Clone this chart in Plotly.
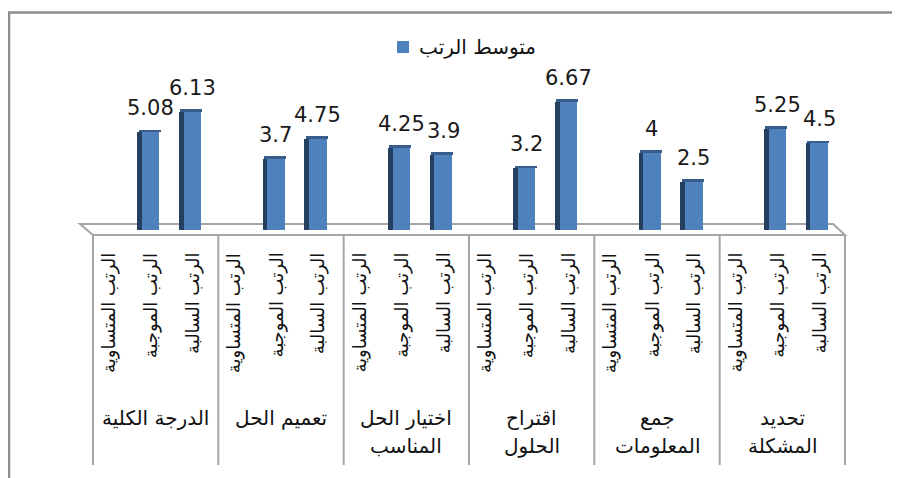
import plotly.graph_objects as go

# ---------------- data ----------------
groups = ["الدرجة الكلية", "تعميم الحل", "اختيار الحل<br>المناسب",
          "اقتراح<br>الحلول", "جمع<br>المعلومات", "تحديد<br>المشكلة"]
subcats = ["الرتب المتساوية", "الرتب الموجبة", "الرتب السالبة"]
series_name = "متوسط الرتب"
vals_equal = [None, None, None, None, None, None]
vals_positive = [5.08, 3.7, 4.25, 3.2, 4, 5.25]
vals_negative = [6.13, 4.75, 3.9, 6.67, 2.5, 4.5]
sub_values = [vals_equal, vals_positive, vals_negative]

# ---------------- geometry helpers ----------------
OFF = 8                      # page body margin
W, H = 892, 470
ML, MR, MT, MB = 85, 55, 68, 248
PW, PH = W - ML - MR, H - MT - MB
NX = 3 * len(groups)
YMAX = 8.0

def py(p):  # screen pixel y -> paper y
    return (H - MB - (p - OFF)) / PH

def px(p):  # screen pixel x -> paper x
    return ((p - OFF) - ML) / PW

def ux(u):  # data x unit -> paper x
    return u / NX

xs, ys = [], []
for g in range(len(groups)):
    for s in range(len(subcats)):
        v = sub_values[s][g]
        if v is None:
            continue
        xs.append(3 * g + s + 0.5)
        ys.append(v)

SHIFT = -0.12
FRONT_W = 0.42
SIDE_W = 0.11

fig = go.Figure()
# side face (dark)
fig.add_trace(go.Bar(x=xs, y=ys, width=SIDE_W, offset=SHIFT - FRONT_W / 2 - SIDE_W,
                     marker=dict(color="#243F60", line=dict(width=0)),
                     showlegend=False, hoverinfo="skip"))
# top face
fig.add_trace(go.Bar(x=xs, y=[0.14] * len(ys), base=ys, width=FRONT_W + SIDE_W,
                     offset=SHIFT - FRONT_W / 2 - SIDE_W + 0.03,
                     marker=dict(color="#385D8A", line=dict(width=0)),
                     showlegend=False, hoverinfo="skip"))
# front face
fig.add_trace(go.Bar(x=xs, y=ys, width=FRONT_W, offset=SHIFT - FRONT_W / 2,
                     marker=dict(color="#4F81BD", line=dict(width=0)),
                     name=series_name, showlegend=False))

annotations = []
# value labels
for x, v in zip(xs, ys):
    annotations.append(dict(x=x + SHIFT, y=v, xref="x", yref="y", text=f"{v:g}",
                            showarrow=False, yshift=24, yanchor="middle",
                            font=dict(family="DejaVu Sans", size=21, color="#1a1a1a")))
# sub-category labels (vertical)
for g in range(len(groups)):
    for s, name in enumerate(subcats):
        annotations.append(dict(x=ux(3 * g + s + 0.5) - 5 / PW, y=py(251), xref="paper", yref="paper",
                                text=name, textangle=-90, showarrow=False,
                                xanchor="center", yanchor="top",
                                font=dict(family="DejaVu Sans", size=18, color="#111111")))
# group labels
for g, name in enumerate(groups):
    lines = name.split("<br>")
    for i, ln in enumerate(lines):
        annotations.append(dict(x=ux(3 * g + 1.5), y=py(418 + 28 * i), xref="paper", yref="paper",
                                text=ln, showarrow=False, xanchor="center", yanchor="middle",
                                font=dict(family="DejaVu Sans", size=20, color="#111111")))
# legend text
annotations.append(dict(x=px(417), y=py(47), xref="paper", yref="paper", text=series_name,
                        showarrow=False, xanchor="left", yanchor="middle",
                        font=dict(family="DejaVu Sans", size=20, color="#111111")))

shapes = []
# outer chart border
shapes.append(dict(type="rect", xref="paper", yref="paper",
                   x0=px(9), x1=px(910), y0=py(12.5), y1=py(500),
                   line=dict(color="#8C8C8C", width=2.5), fillcolor="rgba(0,0,0,0)", layer="below"))
# legend key
shapes.append(dict(type="rect", xref="paper", yref="paper",
                   x0=px(397), x1=px(409), y0=py(41), y1=py(53),
                   line=dict(width=0), fillcolor="#4F81BD"))
# floor
fy_back, fy_front = py(224), py(235)
shapes.append(dict(type="path", xref="paper", yref="paper",
                   path=f"M {px(80)},{fy_back} L {px(833)},{fy_back} L {ux(NX)},{fy_front} L {ux(0)},{fy_front} Z",
                   line=dict(color="#A6A6A6", width=2), fillcolor="white", layer="below"))
# category dividers
for g in range(len(groups) + 1):
    shapes.append(dict(type="line", xref="paper", yref="paper",
                       x0=ux(3 * g), x1=ux(3 * g), y0=py(235), y1=py(465),
                       line=dict(color="#A6A6A6", width=2)))

fig.update_layout(
    width=W, height=H,
    margin=dict(l=ML, r=MR, t=MT, b=MB),
    paper_bgcolor="white", plot_bgcolor="white",
    barmode="overlay", bargap=0,
    xaxis=dict(range=[0, NX], visible=False, fixedrange=True),
    yaxis=dict(range=[0, YMAX], visible=False, fixedrange=True),
    showlegend=False,
    annotations=annotations,
    shapes=shapes,
)

fig.write_html("out.html")
